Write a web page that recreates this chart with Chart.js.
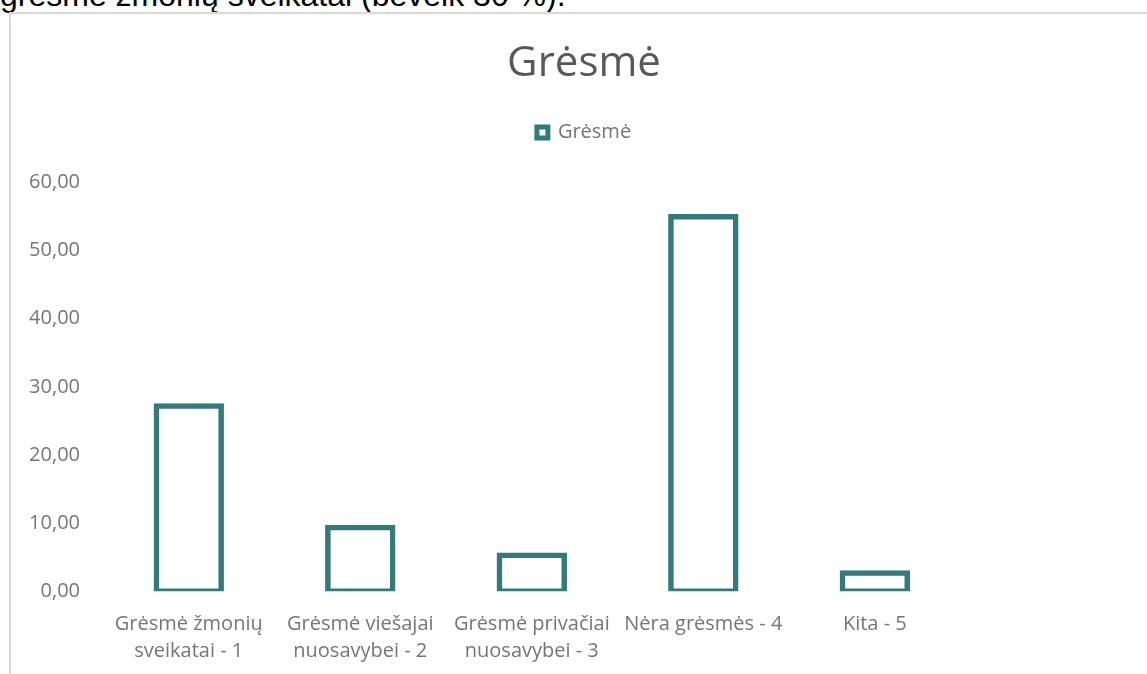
<!DOCTYPE html>
<html>
<head>
<meta charset="utf-8">
<script src="https://cdn.jsdelivr.net/npm/chart.js@4.4.1/dist/chart.umd.min.js"></script>
<style>
  html, body { margin: 0; padding: 0; background: #fff; overflow: hidden; width: 1147px; height: 674px; }
  #lead {
    position: absolute; left: 0; top: -21px; white-space: nowrap;
    font: 32px/32px "Liberation Sans", Arial, sans-serif; color: #000;
  }
  #frame {
    position: absolute; left: 9px; top: 12px; width: 1150px; height: 670px;
    border-left: 2px solid #d9d9d9; border-top: 2px solid #d9d9d9;
  }
  #theChart { position: absolute; left: 0; top: 0; }
</style>
</head>
<body>
<div id="lead">grėsmė žmonių sveikatai (beveik 30 %).</div>
<div id="frame"><canvas id="theChart" width="1146" height="660"></canvas></div>
<script>
const TEAL = "#327b7a";
const GREY = "#767676";

const chartTitle = "Grėsmė";
const seriesName = "Grėsmė";
const categories = [
  ["Grėsmė žmonių", "sveikatai - 1"],
  ["Grėsmė viešajai", "nuosavybei - 2"],
  ["Grėsmė privačiai", "nuosavybei - 3"],
  "Nėra grėsmės - 4",
  "Kita - 5",
];
const values = [27.2, 9.4, 5.3, 55.0, 2.7];
const yMin = 0;
const yMax = 60;
const yStep = 10;

// push the plot down a bit, the way Excel leaves room under the legend
const legendSpacer = {
  id: "legendSpacer",
  beforeInit(chart) {
    const fit = chart.legend.fit;
    chart.legend.fit = function () {
      fit.call(this);
      this.height += 30;
    };
  },
};

const data = {
  labels: categories,
  datasets: [
    {
      label: seriesName,
      data: values,
      backgroundColor: "rgba(0,0,0,0)",
      borderColor: TEAL,
      // thin border + inflate gives a ~5.5px outline centred on the bar edge
      borderWidth: 0.3,
      inflateAmount: 2.6,
      borderSkipped: false,
      categoryPercentage: 1,
      barPercentage: 0.38,
      yAxisID: "y",
    },
  ],
};

const config = {
  type: "bar",
  data: data,
  plugins: [legendSpacer],
  options: {
    responsive: false,
    animation: false,
    layout: { padding: 0 },
    plugins: {
      tooltip: { enabled: false },
      title: {
        display: true,
        text: chartTitle,
        color: "#595959",
        font: { family: "'Open Sans'", size: 42, weight: "normal", lineHeight: 1.2 },
        padding: { top: 25, bottom: 23 },
      },
      legend: {
        display: true,
        position: "top",
        labels: {
          color: GREY,
          font: { family: "'Open Sans'", size: 20 },
          boxWidth: 11,
          boxHeight: 11,
          padding: 10,
          generateLabels(chart) {
            const items = Chart.defaults.plugins.legend.labels.generateLabels(chart);
            items.forEach((it) => {
              it.lineWidth = 5;
              it.strokeStyle = TEAL;
              it.fillStyle = "#ffffff";
            });
            return items;
          },
        },
      },
    },
    scales: {
      x: {
        grid: { display: false, drawTicks: false },
        border: { display: false },
        ticks: {
          color: GREY,
          font: { family: "'Open Sans'", size: 20, lineHeight: 1.35 },
          padding: 19,
          maxRotation: 0,
          autoSkip: false,
        },
        afterFit(s) { s.height = 82.7; },
      },
      y: {
        position: "left",
        min: yMin,
        max: yMax,
        grid: { display: false, drawTicks: false },
        border: { display: false },
        ticks: {
          stepSize: yStep,
          color: GREY,
          font: { family: "'Open Sans'", size: 20 },
          padding: 23,
          callback: (v) => v.toFixed(2).replace(".", ","),
        },
        afterFit(s) { s.width = 92; },
      },
      // empty right axis only keeps space on the right (chart continues past the crop)
      yRight: {
        position: "right",
        display: true,
        grid: { display: false, drawTicks: false },
        border: { display: false },
        ticks: { display: false },
        afterFit(s) { s.width = 196.4; },
      },
    },
  },
};

const theChart = new Chart(document.getElementById("theChart"), config);
</script>
</body>
</html>
